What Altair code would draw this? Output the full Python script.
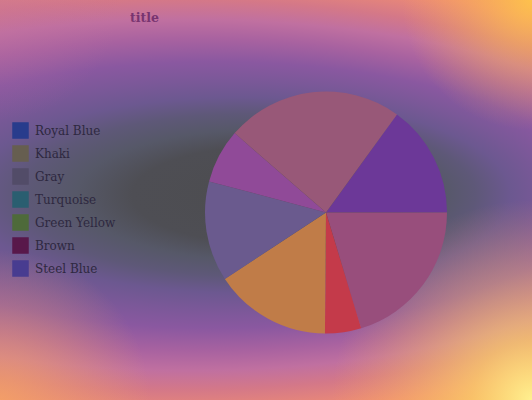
import math
import base64
import altair as alt
import pandas as pd

# ---- data ----
names = ["Royal Blue", "Khaki", "Gray", "Turquoise", "Green Yellow", "Brown", "Steel Blue"]
values = [54.1, 73.1, 17.4, 56.2, 48.2, 26.1, 84.9]
slice_colors = ["#6c3898", "#984e7c", "#c43a4a", "#c07c48", "#6a5a8e", "#904a98", "#985878"]
legend_colors = ["#283c8c", "#665e50", "#524c68", "#2a5e70", "#4e6a3a", "#58184a", "#483c90"]

# ---- background style (elliptical radial gradient) ----
bg_offsets = [0.0, 0.15, 0.20, 0.25, 0.30, 0.35, 0.41, 0.48, 0.54, 0.60, 0.68, 0.76, 0.86, 1.0]
bg_colors = ["#4c4c4e", "#4e4e54", "#565868", "#5e5878", "#6c5890", "#7a5898", "#8a58a0",
             "#a862a0", "#c070a0", "#d47888", "#ee8c74", "#f6a05e", "#fbbc50", "#ffe884"]

W, H = 532, 400


def glow(gid, cx, cy, r, stops):
    s = "".join(f"<stop offset='{o}' stop-color='{c}' stop-opacity='{a}'/>" for o, c, a in stops)
    return f"<radialGradient id='{gid}' gradientUnits='userSpaceOnUse' cx='{cx}' cy='{cy}' r='{r}'>{s}</radialGradient>"


main_stops = "".join(f"<stop offset='{o}' stop-color='{c}'/>" for o, c in zip(bg_offsets, bg_colors))
svg = (
    f"<svg xmlns='http://www.w3.org/2000/svg' width='{W}' height='{H}' viewBox='0 0 {W} {H}'><defs>"
    f"<radialGradient id='g' gradientUnits='userSpaceOnUse' gradientTransform='matrix(2.8 0 0 1 0 0)' "
    f"cx='33.1' cy='195' r='325' fx='107.1' fy='195'>{main_stops}</radialGradient>"
    + glow("br", W, H, 200, [(0, "#fff090", 1), (0.3, "#fcd468", 0.7), (1, "#f8a858", 0)])
    + glow("tr", W, 0, 130, [(0, "#ffc848", 0.85), (1, "#f8a858", 0)])
    + glow("bl", 0, H, 150, [(0, "#f8a860", 0.7), (1, "#f8a860", 0)])
    + glow("tl", 0, 0, 120, [(0, "#c070a0", 0.35), (1, "#c070a0", 0)])
    + f"</defs><rect width='{W}' height='{H}' fill='url(#g)'/>"
    f"<rect width='{W}' height='{H}' fill='url(#br)'/>"
    f"<rect width='{W}' height='{H}' fill='url(#tr)'/>"
    f"<rect width='{W}' height='{H}' fill='url(#bl)'/>"
    f"<rect width='{W}' height='{H}' fill='url(#tl)'/></svg>"
)
bg_url = "data:image/svg+xml;base64," + base64.b64encode(svg.encode()).decode()

df = pd.DataFrame({"name": names, "value": values, "slice": slice_colors,
                   "order": list(range(len(names)))})
bg = pd.DataFrame({"url": [bg_url]})

start = math.radians(35.9)

background = alt.Chart(bg).mark_image(
    width=W, height=H, aspect=False, align="left", baseline="top"
).encode(url="url:N", x=alt.value(0), y=alt.value(0))

theta = alt.Theta("value:Q", stack=True, scale=alt.Scale(range=[start, start + 2 * math.pi]))

pie = alt.Chart(df).mark_arc(outerRadius=121).encode(
    theta=theta,
    order=alt.Order("order:Q"),
    fill=alt.Fill("slice:N", scale=None),
    x=alt.value(326), y=alt.value(212.5),
)

legend_layer = alt.Chart(df).mark_arc(outerRadius=0).encode(
    theta=theta,
    order=alt.Order("order:Q"),
    color=alt.Color(
        "name:N",
        scale=alt.Scale(domain=names, range=legend_colors),
        legend=alt.Legend(
            title=None, orient="none", legendX=12, legendY=122,
            symbolType="square", symbolSize=272, symbolStrokeWidth=0,
            symbolOpacity=1, labelFont="DejaVu Serif", labelFontSize=12,
            labelColor="#2e2840", labelOffset=6, rowPadding=6,
        ),
    ),
    x=alt.value(326), y=alt.value(212.5),
)

chart = alt.layer(background, pie, legend_layer).properties(
    width=W, height=H,
    autosize=alt.AutoSizeParams(type="none"),
    padding=0,
    title=alt.TitleParams(text="title", anchor="start", frame="group", dx=130, dy=24, offset=0,
                          font="DejaVu Serif", fontSize=12.5, fontWeight="bold",
                          color="#783470"),
).configure_view(strokeWidth=0)

chart.save("out.html", embed_options={"renderer": "svg", "actions": False})
